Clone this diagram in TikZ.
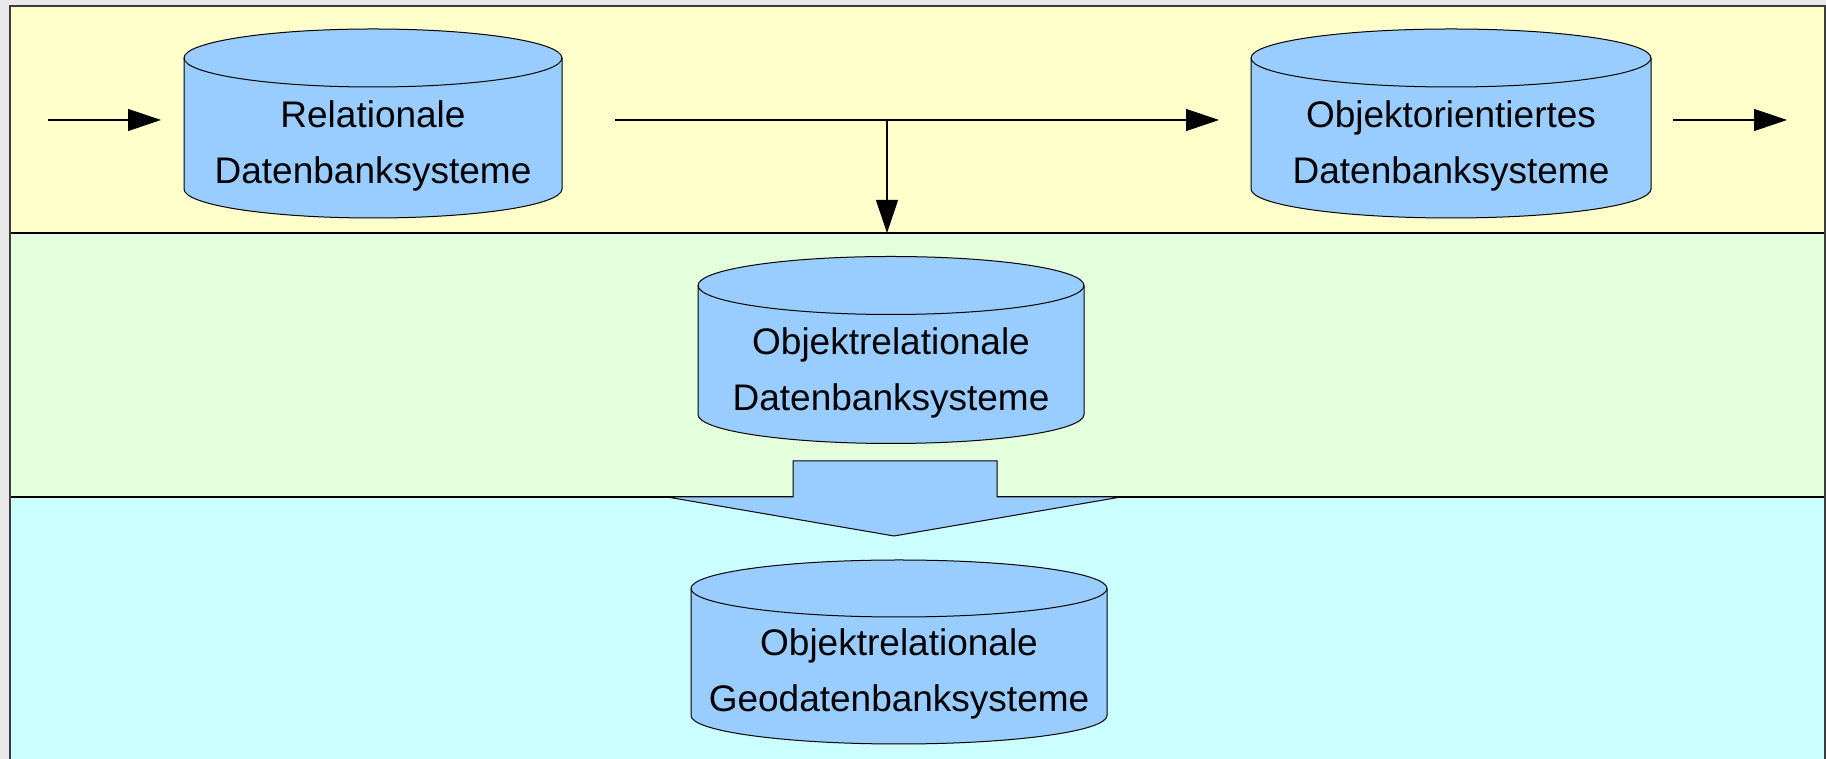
\documentclass[tikz,border=0pt]{standalone}
\usepackage{fontspec}
\setmainfont{Liberation Sans}
\usetikzlibrary{arrows.meta}
\definecolor{outergray}{RGB}{232,232,232}
\definecolor{bandyellow}{RGB}{255,255,204}
\definecolor{bandgreen}{RGB}{228,255,220}
\definecolor{bandcyan}{RGB}{204,255,255}
\definecolor{dbblue}{RGB}{153,204,255}
\definecolor{framegray}{RGB}{60,60,60}
\tikzset{
  dbshape/.style={fill=dbblue, draw=black, line width=0.5pt},
  dbtext/.style={align=center, inner sep=0pt, anchor=base, font=\fontsize{18.5}{28}\selectfont},
  flow/.style={draw=black, line width=0.55pt, -{Triangle[length=16.5pt,width=11pt]}},
  bandline/.style={draw=black, line width=0.55pt},
  blockarrow/.style={fill=dbblue, draw=black, line width=0.5pt, line join=miter}
}
% cylinder: cx, rx, Ytop-centre, Ybottom-centre, ry
\newcommand{\dbcyl}[5]{%
  \path[dbshape] (#1-#2,#3) -- (#1-#2,#4) arc[start angle=180,end angle=360,x radius=#2,y radius=#5]
     -- (#1+#2,#3) arc[start angle=0,end angle=180,x radius=#2,y radius=#5] -- cycle;
  \draw[line width=0.5pt] (#1-#2,#3) arc[start angle=180,end angle=360,x radius=#2,y radius=#5];
}
\begin{document}
\begin{tikzpicture}[x=0.5pt,y=0.5pt]
\useasboundingbox (0,0) rectangle (1826,759);
\fill[outergray] (0,0) rectangle (1826,759);
% bands
\fill[bandyellow] (10,526) rectangle (1825,753);
\fill[bandgreen] (10,262) rectangle (1825,526);
\fill[bandcyan] (10,-2) rectangle (1825,262);
\draw[bandline] (10,526) -- (1825,526);
\draw[bandline] (10,262) -- (1825,262);
\draw[framegray, line width=0.8pt] (10,-5) -- (10,753) -- (1825,753) -- (1825,-5);

% cylinders
\dbcyl{373}{189}{701}{570}{29}
\dbcyl{1451}{200}{701}{570}{29}
\dbcyl{891}{193}{473.5}{344.5}{29}
\dbcyl{899}{208}{170.5}{43.5}{28.5}

\node[dbtext] (rel) at (373,575) {Relationale\\Datenbanksysteme};
\node[dbtext] (oo) at (1451,575) {Objektorientiertes\\Datenbanksysteme};
\node[dbtext] (ordb) at (891,348) {Objektrelationale\\Datenbanksysteme};
\node[dbtext] (geo) at (899,47) {Objektrelationale\\Geodatenbanksysteme};

% connectors
\coordinate (inS) at (48,639);
\coordinate (inE) at (161,639);
\coordinate (midS) at (615,639);
\coordinate (midE) at (1219,639);
\coordinate (branch) at (887,639);
\coordinate (branchE) at (887,526);
\coordinate (outS) at (1673,639);
\coordinate (outE) at (1787,639);
\draw[flow] (inS) -- (inE);
\draw[flow] (midS) -- (midE);
\draw[flow] (branch) -- (branchE);
\draw[flow] (outS) -- (outE);

% block arrow
\path[blockarrow] (793,262) -- (793,298) -- (997,298) -- (997,262) -- (1121,262) -- (894,223) -- (667,262) -- cycle;
\end{tikzpicture}
\end{document}
